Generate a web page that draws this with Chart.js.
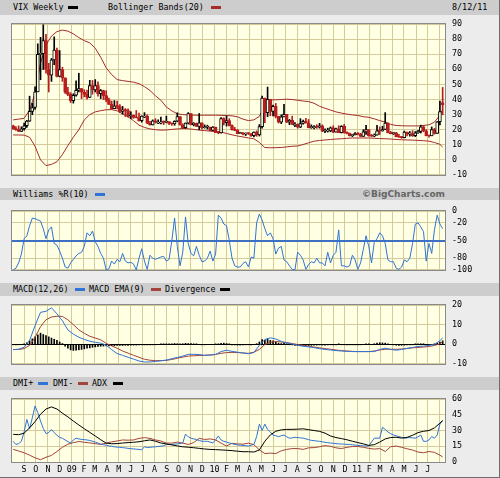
<!DOCTYPE html>
<html>
<head>
<meta charset="utf-8">
<title>VIX Weekly</title>
<script src="https://cdn.jsdelivr.net/npm/chart.js@4.4.0/dist/chart.umd.min.js"></script>
<style>
  body { margin: 0; background: #fff; }
  #frame {
    position: relative; width: 499px; height: 477px; overflow: hidden;
    background: #ececec; border-right: 1px solid #6d6d6d; border-bottom: 1px solid #6d6d6d;
    font-family: "DejaVu Sans Mono", monospace; font-size: 8.4px; color: #000;
  }
  .hdr { position: absolute; left: 0; width: 499px; background: #cdcdcd; }
  .txt { position: absolute; top: 0; white-space: pre; }
  .sw { position: absolute; width: 10px; height: 3px; }
  .brand { position: absolute; top: 0; right: 54px; font-family: "DejaVu Sans", sans-serif; font-weight: bold; font-size: 9px; color: #666; }
  canvas { position: absolute; left: 0; }
</style>
</head>
<body>
<div id="frame"></div>
<script>
// ---------------------------------------------------------
// Data: weekly bars, week 0 = week of Aug 4 2008 ... week 157 = week of Aug 8 2011
// ---------------------------------------------------------
const vixOpen = [
  22.6, 20.7, 20.0, 18.8, 20.6, 22.6, 25.7, 32.1, 34.7, 45.1,
  69.95, 70.3, 79.1, 59.9, 56.1, 66.3, 72.7, 55.3, 59.9, 54.3,
  44.9, 43.4, 39.2, 42.8, 46.1, 47.3, 44.8, 43.4, 41.3, 49.3,
  46.4, 49.3, 43.9, 45.9, 42.6, 39.7, 36.8, 33.9, 35.8, 35.3,
  32.1, 33.1, 32.6, 28.9, 29.6, 28.2, 27.9, 25.9, 29.0, 29.0,
  24.3, 23.1, 25.9, 25.0, 25.0, 25.0, 24.8, 25.3, 24.2, 23.9,
  25.6, 28.7, 23.1, 21.4, 24.3, 30.7, 23.4, 24.2, 22.2, 24.5,
  21.3, 21.6, 21.7, 19.5, 21.7, 18.1, 17.9, 27.3, 24.6, 26.1,
  22.7, 20.0, 19.5, 17.4, 17.6, 17.0, 17.8, 17.5, 16.1, 18.4,
  16.6, 22.05, 40.95, 31.2, 40.1, 32.1, 35.5, 28.8, 24.9, 28.5,
  30.1, 25.0, 26.25, 23.5, 23.5, 21.7, 24.1, 25.5, 24.45, 21.3,
  22.0, 22.0, 21.7, 22.5, 18.96, 19.0, 19.1, 21.2, 18.3, 20.6,
  18.0, 22.2, 18.0, 17.55, 16.1, 16.5, 17.75, 17.1, 15.5, 18.5,
  20.0, 15.9, 15.7, 16.4, 19.2, 19.1, 20.1, 24.4, 18.0, 17.4,
  17.9, 15.3, 15.0, 14.75, 18.4, 17.1, 17.4, 16.0, 17.95, 18.9,
  21.85, 19.1, 16.0, 15.95, 20.0, 17.5, 25.25, 38.0
];
const vixHigh = [
  23.0, 22.0, 22.5, 21.9, 24.3, 26.2, 42.2, 37.5, 48.4, 76.9,
  81.2, 89.5, 83.2, 64.0, 67.2, 81.5, 74.0, 72.4, 61.4, 54.4,
  48.0, 44.5, 43.8, 52.3, 57.4, 47.4, 46.5, 46.2, 52.7, 52.6,
  53.2, 51.7, 46.6, 46.2, 45.8, 41.0, 39.0, 39.3, 39.0, 36.7,
  35.4, 34.0, 33.8, 31.9, 29.7, 32.7, 31.0, 29.2, 31.3, 29.9,
  25.5, 26.5, 27.3, 26.6, 28.4, 25.9, 29.0, 25.3, 24.3, 25.9,
  31.2, 28.7, 23.9, 24.5, 31.3, 30.7, 24.7, 24.4, 30.7, 24.5,
  23.2, 23.0, 21.7, 22.0, 21.7, 18.8, 28.0, 27.9, 29.2, 27.3,
  23.2, 21.5, 20.1, 18.3, 18.2, 17.9, 18.0, 17.5, 18.5, 19.2,
  23.4, 42.2, 40.95, 48.2, 40.1, 36.3, 37.4, 28.8, 29.8, 36.8,
  30.1, 26.8, 29.0, 24.7, 23.9, 27.3, 26.3, 27.5, 26.8, 23.2,
  22.8, 23.3, 24.2, 23.2, 20.5, 21.0, 21.8, 22.6, 21.0, 22.6,
  22.7, 23.5, 18.5, 17.8, 16.8, 18.0, 18.0, 17.6, 20.0, 22.9,
  20.0, 16.9, 17.2, 22.9, 21.8, 22.3, 31.3, 24.5, 18.9, 18.2,
  18.2, 17.0, 15.6, 19.1, 18.4, 18.8, 19.4, 18.8, 19.5, 23.0,
  22.7, 20.1, 16.2, 21.8, 20.9, 25.4, 38.9, 48.0
];
const vixLow = [
  20.3, 19.5, 18.8, 18.8, 19.7, 21.5, 25.5, 30.0, 33.5, 45.1,
  53.1, 59.9, 57.5, 45.0, 52.0, 63.0, 55.0, 55.0, 52.0, 44.0,
  42.5, 38.0, 37.6, 42.2, 45.0, 40.6, 41.8, 40.2, 41.3, 43.5,
  45.0, 42.2, 40.6, 40.0, 38.5, 36.5, 33.5, 33.9, 33.7, 31.2,
  30.3, 28.7, 28.3, 27.3, 27.5, 27.8, 25.7, 25.0, 28.0, 24.0,
  23.0, 23.1, 24.4, 24.0, 23.8, 23.4, 24.5, 23.4, 22.8, 22.9,
  25.2, 23.0, 20.6, 20.9, 23.8, 23.2, 22.5, 22.0, 20.0, 20.5,
  21.0, 20.4, 19.4, 19.3, 18.0, 17.3, 17.7, 23.1, 22.4, 22.5,
  19.7, 19.3, 17.4, 17.4, 16.5, 16.1, 16.8, 15.6, 15.2, 15.6,
  15.8, 21.0, 24.6, 28.6, 29.2, 29.1, 27.8, 24.4, 24.0, 28.5,
  24.7, 23.3, 23.4, 22.0, 21.0, 21.3, 23.6, 24.3, 21.2, 20.9,
  20.5, 20.9, 21.0, 18.7, 18.0, 18.4, 18.6, 18.0, 18.3, 18.0,
  17.8, 17.7, 17.2, 15.8, 15.4, 16.5, 16.6, 15.4, 15.5, 16.8,
  15.7, 15.4, 15.3, 16.4, 16.8, 19.0, 20.1, 17.8, 17.2, 16.8,
  15.2, 14.8, 14.3, 14.6, 15.9, 15.7, 15.5, 15.4, 17.5, 17.8,
  18.6, 15.9, 15.1, 15.95, 17.0, 17.5, 23.2, 29.9
];
const vixClose = [
  20.7, 20.0, 18.8, 20.6, 22.6, 25.7, 32.1, 34.7, 45.1, 69.95,
  70.3, 79.1, 59.9, 56.1, 66.3, 72.7, 55.3, 59.9, 54.3, 44.9,
  43.4, 39.2, 42.8, 46.1, 47.3, 44.8, 43.4, 41.3, 49.3, 46.4,
  49.3, 43.9, 45.9, 42.6, 39.7, 36.8, 33.9, 35.8, 35.3, 32.1,
  33.1, 32.6, 28.9, 29.6, 28.2, 27.9, 25.9, 29.0, 29.0, 24.3,
  23.1, 25.9, 25.0, 25.0, 25.0, 24.8, 25.3, 24.2, 23.9, 25.6,
  28.7, 23.1, 21.4, 24.3, 30.7, 23.4, 24.2, 22.2, 24.5, 21.3,
  21.6, 21.7, 19.5, 21.7, 18.1, 17.9, 27.3, 24.6, 26.1, 22.7,
  20.0, 19.5, 17.4, 17.6, 17.0, 17.8, 17.5, 16.1, 18.4, 16.6,
  22.05, 40.95, 31.2, 40.1, 32.1, 35.5, 28.8, 24.9, 28.5, 30.1,
  25.0, 26.25, 23.5, 23.5, 21.7, 24.1, 25.5, 24.45, 21.3, 22.0,
  22.0, 21.7, 22.5, 18.96, 19.0, 19.1, 21.2, 18.3, 20.6, 18.0,
  22.2, 18.0, 17.55, 16.1, 16.5, 17.75, 17.1, 15.5, 18.5, 20.0,
  15.9, 15.7, 16.4, 19.2, 19.1, 20.1, 24.4, 18.0, 17.4, 17.9,
  15.3, 15.0, 14.75, 18.4, 17.1, 17.4, 16.0, 17.95, 18.9, 21.85,
  19.1, 16.0, 15.95, 20.0, 17.5, 25.25, 32.0, 36.4
];

// two-week samples (weeks 0, 2, 4 ... 156, then the last week 157)
const bollUpper = [
  26.5, 27, 27.5, 33, 44, 64, 76, 82, 85, 86,
  85.3, 83.5, 81, 79, 77.5, 74, 68, 61, 56.5, 53.2,
  52.5, 52, 51.5, 50.5, 48.5, 46, 42.5, 39.5, 35, 32.5,
  30.5, 30, 29.7, 29.6, 29.6, 29.6, 29.6, 29.6, 29.5, 29.3,
  29.2, 28.5, 27, 26, 26.5, 28.8, 36, 39.7, 39.8, 40,
  40.2, 40, 39.5, 39, 38.6, 37.5, 35.5, 34.2, 33, 31.8,
  31, 30.3, 29.8, 29.4, 28.6, 28.2, 27.2, 26, 25, 23.5,
  22.8, 22.6, 22.5, 22.5, 22.5, 22.8, 23.2, 25, 29.5, 33.4
];
const bollLower = [
  16.5, 16.5, 16.4, 15, 9, 0, -3.8, -3, -1.2, 3.5,
  9.5, 15, 20, 26.5, 30, 31.8, 32.6, 33.2, 33.3, 32.5,
  30.5, 28.5, 26, 23, 21.5, 20.5, 20, 19.7, 19.8, 20.2,
  20.5, 20.8, 20.6, 20.2, 19.7, 19.4, 19, 18.7, 18.4, 17.5,
  16.6, 15.8, 15.2, 14.5, 14, 11.5, 8.2, 8, 8.1, 8.2,
  8.6, 9, 9.2, 10.2, 11.3, 12.4, 12.8, 13.2, 13.5, 13.8,
  14, 14.3, 14.5, 14.5, 14.5, 14.5, 14.3, 14.1, 14, 13.8,
  13.5, 13.3, 13.2, 13.1, 12.9, 12.7, 12.4, 11.5, 10.3, 8.5
];

// weekly
const williamsR = [
  -100, -97, -88, -73, -47, -42, -25, -12, -13, -15,
  -17, -30, -47, -32, -27, -55, -58, -68, -80, -95,
  -97, -88, -82, -76, -72, -70, -60, -37, -42, -34,
  -52, -60, -72, -80, -100, -98, -85, -90, -82, -86,
  -72, -85, -88, -87, -90, -100, -80, -64, -85, -99,
  -75, -80, -82, -80, -78, -77, -85, -82, -50, -12,
  -60, -93, -70, -10, -55, -72, -76, -60, -75, -86,
  -85, -80, -68, -85, -73, -7, -12, -22, -25, -50,
  -80, -93, -95, -95, -89, -86, -95, -78, -80, -20,
  -5, -15, -30, -42, -37, -47, -73, -63, -60, -83,
  -86, -93, -99, -100, -70, -75, -83, -99, -91, -86,
  -88, -80, -88, -88, -93, -70, -88, -75, -70, -32,
  -93, -93, -95, -93, -75, -83, -99, -88, -65, -42,
  -60, -88, -53, -47, -37, -42, -55, -83, -86, -86,
  -97, -99, -95, -83, -86, -80, -55, -22, -20, -27,
  -35, -85, -55, -72, -32, -7, -22, -30
];

// two-week samples
const macdLine = [
  -2.7, -2.5, -1.5, 2.0, 9.5, 16.3, 16.8, 18.6, 15.5, 12.0,
  7.3, 5.2, 3.6, 2.5, 1.6, 1.0, 0.6, -0.4, -2.7, -4.7,
  -5.6, -6.6, -7.5, -8.5, -9.0, -9.0, -8.7, -8.4, -8.0, -7.3,
  -6.7, -6.0, -5.1, -5.1, -5.2, -5.6, -5.5, -5.2, -3.7, -3.0,
  -3.6, -4.0, -4.4, -4.8, -4.2, -0.5, 2.4, 3.3, 2.7, 1.5,
  0.7, 0.1, -0.5, -1.0, -1.3, -1.7, -2.2, -2.6, -2.9, -3.2,
  -3.4, -3.6, -3.7, -3.7, -3.7, -3.7, -3.7, -2.6, -2.0, -2.6,
  -3.0, -2.6, -2.1, -1.6, -1.1, -0.9, -0.5, -0.1, 1.8, 3.3
];
const macdEma = [
  -2.7, -2.6, -2.2, -0.5, 3.5, 9.0, 12.5, 13.9, 14.3, 14.2,
  12.5, 10.0, 7.4, 5.6, 4.1, 3.2, 2.3, 0.5, -0.8, -2.0,
  -3.4, -4.5, -5.6, -6.6, -7.6, -8.1, -8.3, -8.3, -8.2, -7.7,
  -7.1, -6.5, -6.0, -5.8, -5.7, -5.6, -5.4, -5.1, -4.6, -4.2,
  -4.1, -4.2, -4.4, -4.6, -4.0, -2.6, -0.1, 1.1, 1.4, 1.2,
  0.9, 0.4, -0.1, -0.5, -1.0, -1.4, -1.8, -2.2, -2.5, -2.9,
  -3.2, -3.4, -3.6, -3.7, -3.7, -3.7, -3.4, -2.9, -2.5, -2.5,
  -2.5, -2.4, -2.1, -1.8, -1.6, -1.4, -1.1, -0.6, 0.3, 1.4
];
// weekly
const macdDivergence = [
  -0.2, -0.2, -0.1, 0, 0.3, 0.8, 1.8, 2.8, 3.8, 4.8,
  5.7, 5.0, 4.5, 3.8, 3.2, 2.6, 2.0, 1.2, 0.4, -1.0,
  -2.0, -2.8, -3.1, -3.0, -2.8, -2.6, -2.3, -2.0, -1.8, -1.5,
  -1.3, -1.1, -1.0, -0.9, -0.8, -0.8, -0.7, -0.7, -0.6, -0.6,
  -0.6, -0.5, -0.5, -0.4, -0.4, -0.4, -0.3, -0.3, -0.3, -0.3,
  -0.2, -0.2, -0.1, 0, 0.1, 0.1, 0.1, 0.2, 0.2, 0.4,
  0.3, 0.2, 0.3, 0.5, 0.4, 0.4, 0.2, 0.1, 0, -0.1,
  -0.1, 0, 0, 0, 0.1, 0.2, 0.5, 0.6, 0.4, 0.2,
  -0.2, -0.3, -0.4, -0.4, -0.3, -0.2, -0.2, -0.1, 0, 0.3,
  1.2, 2.4, 2.2, 2.8, 2.0, 1.8, 1.2, 0.6, 0.4, 0.5,
  0.2, 0, -0.3, -0.5, -0.6, -0.6, -0.5, -0.5, -0.6, -0.5,
  -0.4, -0.4, -0.3, -0.4, -0.4, -0.3, -0.2, -0.3, -0.2, 0.1,
  -0.1, -0.2, -0.3, -0.3, -0.2, -0.2, -0.2, -0.2, 0, 0.3,
  0.2, 0, 0.3, 0.6, 0.8, 0.7, 0.6, 0.2, 0, -0.2,
  -0.4, -0.5, -0.5, -0.4, -0.3, -0.3, -0.1, 0.1, 0.3, 0.3,
  0.3, -0.1, -0.2, 0, 0.2, 0.6, 1.2, 1.8
];

// weekly
const dmiPlus = [
  19.7, 16.7, 17.5, 19.7, 28.6, 40.6, 31.6, 42.1, 53.4, 47,
  39.1, 32, 27.1, 28, 31, 28, 25.5, 23.5, 22.5, 21,
  19.5, 18.2, 21, 22.7, 22, 21.5, 21.3, 21, 20.5, 19.8,
  19, 18, 17, 16.5, 16, 15.3, 15, 14.5, 14.2, 14,
  13.7, 13.4, 13, 12.7, 12.5, 12.2, 12, 11.6, 14.6, 13.7,
  14, 14.3, 14.5, 14.8, 15.1, 15.5, 16.7, 16.7, 16.7, 17,
  17.3, 17.6, 18.2, 26.6, 24, 22.7, 22, 21.5, 20.5, 19.8,
  19.7, 19.7, 19, 18.2, 21, 24.8, 21, 19.7, 19, 18.2,
  17.5, 16.7, 16.3, 16, 15.8, 15.5, 15.2, 16, 16.7, 24.2,
  36.1, 30.1, 36.1, 31, 28.6, 25.7, 25, 24.2, 25, 25.7,
  24, 22.7, 23, 23.6, 23.3, 23, 22.7, 22, 21.3, 20.6,
  20.3, 20, 19.7, 19.3, 18.8, 18.4, 18.1, 17.8, 17.5, 17.3,
  17.1, 17, 16.8, 16.7, 16.4, 16.1, 15.8, 15.6, 15.4, 15.3,
  15.2, 19, 22.7, 22.7, 22.7, 33.1, 31, 28.6, 27, 25.7,
  25, 24.2, 23.5, 22.7, 23, 23.3, 23, 22.7, 24, 25.7,
  19.7, 19.7, 21, 24.2, 22.7, 25.7, 36.1, 39.1
];
// two-week samples
const dmiMinus = [
  12, 10.5, 8.8, 6.5, 4, 2.2, 4.5, 6.3, 10, 14,
  17, 18.5, 19.5, 18.8, 18.2, 17.5, 16.8, 18, 19.2, 20,
  21, 20.8, 21, 22.5, 23.2, 22.5, 21, 20, 18, 18,
  19, 18, 16.7, 18.5, 22.5, 21.5, 22, 21, 18, 15.2,
  17.8, 17.2, 17, 18, 16.5, 11.5, 8, 8.5, 8, 10.7,
  12, 12.8, 12.8, 12, 13.5, 13.7, 14.5, 15.6, 15, 13.5,
  12.8, 14, 14.7, 14.8, 14, 13, 12.3, 12.8, 10, 14.6,
  15.2, 14, 12.6, 11.4, 9.5, 8.8, 10, 9.2, 6.5, 4.8
];
const adxLine = [
  26.4, 26, 27.5, 32.5, 38.5, 45.5, 50.5, 52.5, 50.5, 46.5,
  43, 39, 35.3, 31.7, 28.2, 24.8, 21.2, 18, 17.4, 17.5,
  18.1, 18.5, 18.8, 19.3, 20.2, 21, 19.8, 18.1, 17.2, 16.3,
  15.3, 14.5, 14.1, 13.6, 13, 12.4, 12, 11.8, 11.5, 11.2,
  10.8, 10.3, 9.8, 9.8, 9.5, 11.5, 19.8, 25.8, 29.3, 30.6,
  31.1, 31.1, 31.3, 31.6, 30.8, 30, 29.2, 27.5, 24.8, 23.3,
  22.3, 21.2, 19.8, 18.5, 17.3, 15.8, 16.5, 19, 22, 23.3,
  23.6, 22.8, 23.5, 25.5, 28, 29.3, 30, 32.5, 37, 39.7
];

// tick labels
const monthLabels = ['S', 'O', 'N', 'D', '09', 'F', 'M', 'A', 'M', 'J', 'J', 'A', 'S', 'O', 'N', 'D',
                     '10', 'F', 'M', 'A', 'M', 'J', 'J', 'A', 'S', 'O', 'N', 'D',
                     '11', 'F', 'M', 'A', 'M', 'J', 'J', ''];
const vixTicks = [90, 80, 70, 60, 50, 40, 30, 20, 10, 0, -10];
const wprTicks = [0, -20, -50, -80, -100];
const macdTicks = [20, 10, 0, -10];
const dmiTicks = [60, 45, 30, 15, 0];

// ---------------------------------------------------------
// Axis helpers: x is measured in days after Aug 1 2008
// ---------------------------------------------------------
const DAY_MS = 86400000;
const AXIS_START = Date.UTC(2008, 7, 1);
const X_MAX = 1108;
const LAST_WEEK = 157;
const monthDays = monthLabels.map((_, k) => (Date.UTC(2008, 8 + k, 1) - AXIS_START) / DAY_MS);

function weekX(w) { return 3 + 7 * w; }   // Monday of week w
function weeklyPoints(arr) { return arr.map((v, i) => ({ x: weekX(i), y: v })); }
function twoWeekPoints(arr) {
    return arr.map((v, k) => ({ x: weekX(k === arr.length - 1 ? LAST_WEEK : 2 * k), y: v }));
}

// colours
const PLOT_BG = '#ffffe4';
const GRID = '#d3cb9c';
const FRAME = '#8a8a8a';
const BAND_RED = '#a52c2c';
const CANDLE_RED = '#b81e1e';
const BLUE = '#2f74d6';
const BROWN = '#a3443a';

Chart.defaults.font.family = '"DejaVu Sans Mono", monospace';
Chart.defaults.font.size = 8.4;
Chart.defaults.color = '#000';

// cream plot background + grey frame round the plot area
const framePlugin = {
    id: 'frame',
    beforeDraw(chart) {
        const { ctx, chartArea: a } = chart;
        ctx.save();
        ctx.fillStyle = PLOT_BG;
        ctx.fillRect(a.left, a.top, a.right - a.left, a.bottom - a.top);
        ctx.restore();
    },
    afterDraw(chart) {
        const { ctx, chartArea: a } = chart;
        ctx.save();
        ctx.strokeStyle = FRAME;
        ctx.lineWidth = 1;
        ctx.strokeRect(Math.round(a.left) - 0.5, Math.round(a.top) - 0.5,
                       Math.round(a.right - a.left) + 1, Math.round(a.bottom - a.top) + 1);
        ctx.restore();
    }
};

function panelOptions(yMin, yMax, yTicks, gridColor, gridWidth, showMonths) {
    return {
        responsive: false,
        animation: false,
        events: [],
        layout: { padding: { left: 12, right: 0, top: 8, bottom: showMonths ? 0 : 8 } },
        plugins: { legend: { display: false }, tooltip: { enabled: false } },
        scales: {
            x: {
                type: 'linear', min: 0, max: X_MAX, bounds: 'data', offset: false,
                afterBuildTicks: s => { s.ticks = monthDays.map(v => ({ value: v })); },
                afterFit: s => { s.height = showMonths ? 15 : 0; },
                grid: { color: GRID, drawTicks: false, offset: false },
                border: { display: false },
                ticks: {
                    display: showMonths, autoSkip: false, maxRotation: 0, padding: 3,
                    callback: (v, i) => monthLabels[i]
                }
            },
            y: {
                position: 'right', min: yMin, max: yMax, bounds: 'data',
                afterBuildTicks: s => { s.ticks = yTicks.map(v => ({ value: v })); },
                afterFit: s => { s.width = 55; },
                grid: { color: gridColor || GRID, lineWidth: gridWidth || 1, drawTicks: false },
                border: { display: false },
                ticks: { padding: 7, autoSkip: false }
            }
        }
    };
}

const frame = document.getElementById('frame');

function addCanvas(top, height) {
    const c = document.createElement('canvas');
    c.width = 500;
    c.height = height;
    c.style.top = top + 'px';
    frame.appendChild(c);
    return c;
}

function addHeader(top, height, items) {
    const bar = document.createElement('div');
    bar.className = 'hdr';
    bar.style.top = top + 'px';
    bar.style.height = height + 'px';
    items.forEach(it => {
        const el = document.createElement('div');
        if (it.swatch) {
            el.className = 'sw';
            el.style.background = it.swatch;
            el.style.left = it.x + 'px';
            el.style.top = Math.round(height / 2 - 1.5) + 'px';
        } else if (it.brand) {
            el.className = 'brand';
            el.textContent = it.brand;
            el.style.lineHeight = height + 'px';
        } else {
            el.className = 'txt';
            el.textContent = it.text;
            el.style.left = it.x + 'px';
            el.style.lineHeight = height + 'px';
        }
        bar.appendChild(el);
    });
    frame.appendChild(bar);
}

// ---------------------------------------------------------
// Headers
// ---------------------------------------------------------
addHeader(0, 15, [
    { text: 'VIX Weekly', x: 13 }, { swatch: '#000', x: 68 },
    { text: 'Bollinger Bands(20)', x: 108 }, { swatch: BAND_RED, x: 211 },
    { text: '8/12/11', x: 452 }
]);
addHeader(188, 12, [
    { text: 'Williams %R(10)', x: 13 }, { swatch: BLUE, x: 95 },
    { brand: '\u00A9BigCharts.com' }
]);
addHeader(283, 13, [
    { text: 'MACD(12,26)', x: 13 }, { swatch: BLUE, x: 75 },
    { text: 'MACD EMA(9)', x: 89 }, { swatch: BROWN, x: 151 },
    { text: 'Divergence', x: 165 }, { swatch: '#000', x: 220 }
]);
addHeader(377, 13, [
    { text: 'DMI+', x: 13 }, { swatch: BLUE, x: 38 },
    { text: 'DMI-', x: 53 }, { swatch: BROWN, x: 78 },
    { text: 'ADX', x: 92 }, { swatch: '#000', x: 113 }
]);

// ---------------------------------------------------------
// 1. VIX candles + Bollinger bands
// ---------------------------------------------------------
const isUp = i => vixClose[i] >= vixOpen[i];

new Chart(addCanvas(12, 175), {
    type: 'bar',
    data: {
        datasets: [
            {
                order: 0, grouped: false, barThickness: 3, borderWidth: 1, borderSkipped: false, minBarLength: 1,
                data: vixOpen.map((o, i) => ({ x: weekX(i), y: [o, vixClose[i]] })),
                backgroundColor: c => isUp(c.dataIndex) ? PLOT_BG : CANDLE_RED,
                borderColor: c => isUp(c.dataIndex) ? '#000' : CANDLE_RED
            },
            {
                order: 1, grouped: false, barThickness: 1, borderWidth: 0,
                data: vixLow.map((l, i) => ({ x: weekX(i), y: [l, vixHigh[i]] })),
                backgroundColor: c => isUp(c.dataIndex) ? '#000' : CANDLE_RED
            },
            { type: 'line', order: 2, data: twoWeekPoints(bollUpper), borderColor: BAND_RED, borderWidth: 1, pointRadius: 0 },
            { type: 'line', order: 2, data: twoWeekPoints(bollLower), borderColor: BAND_RED, borderWidth: 1, pointRadius: 0 }
        ]
    },
    options: panelOptions(-10, 90, vixTicks),
    plugins: [framePlugin]
});

// ---------------------------------------------------------
// 2. Williams %R
// ---------------------------------------------------------
new Chart(addCanvas(199, 83), {
    type: 'line',
    data: {
        datasets: [
            { data: weeklyPoints(williamsR), borderColor: BLUE, borderWidth: 1, pointRadius: 0 }
        ]
    },
    options: panelOptions(-100, 0, wprTicks,
        c => c.tick && c.tick.value === -50 ? '#3d6fc2' : GRID,
        c => c.tick && c.tick.value === -50 ? 2 : 1),
    plugins: [framePlugin]
});

// ---------------------------------------------------------
// 3. MACD
// ---------------------------------------------------------
new Chart(addCanvas(293, 83), {
    type: 'bar',
    data: {
        datasets: [
            { type: 'line', order: 0, data: twoWeekPoints(macdLine), borderColor: BLUE, borderWidth: 1, pointRadius: 0 },
            { type: 'line', order: 1, data: twoWeekPoints(macdEma), borderColor: BROWN, borderWidth: 1, pointRadius: 0 },
            {
                order: 2, grouped: false, barThickness: 1, borderWidth: 0,
                data: weeklyPoints(macdDivergence), backgroundColor: '#000'
            }
        ]
    },
    options: panelOptions(-10, 20, macdTicks, c => c.tick && c.tick.value === 0 ? '#000' : GRID),
    plugins: [framePlugin]
});

// ---------------------------------------------------------
// 4. DMI / ADX
// ---------------------------------------------------------
new Chart(addCanvas(387, 90), {
    type: 'line',
    data: {
        datasets: [
            { order: 0, data: twoWeekPoints(adxLine), borderColor: '#000', borderWidth: 1, pointRadius: 0 },
            { order: 1, data: weeklyPoints(dmiPlus), borderColor: BLUE, borderWidth: 1, pointRadius: 0 },
            { order: 2, data: twoWeekPoints(dmiMinus), borderColor: BROWN, borderWidth: 1, pointRadius: 0 }
        ]
    },
    options: panelOptions(0, 60, dmiTicks, null, null, true),
    plugins: [framePlugin]
});
</script>
</body>
</html>
